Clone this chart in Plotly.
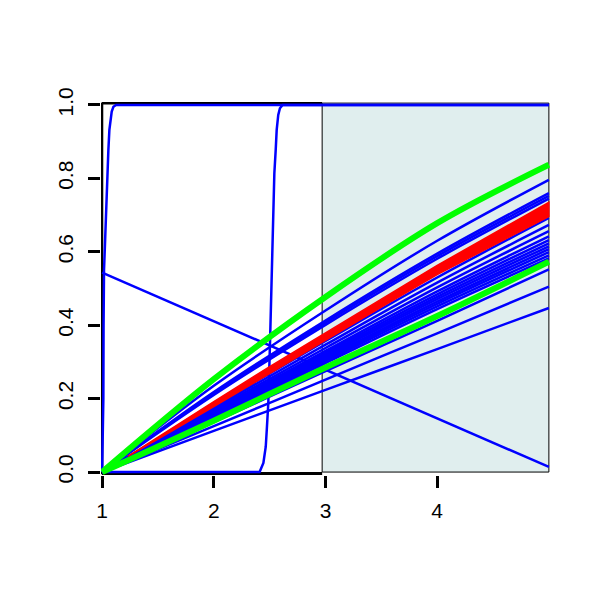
import plotly.graph_objects as go

# ---------------- data ----------------
x_grid = [1, 2, 3, 4, 5]

blue_curves = [
    [0, 0.235, 0.440, 0.630, 0.796],
    [0, 0.218, 0.413, 0.595, 0.760],
    [0, 0.214, 0.407, 0.588, 0.752],
    [0, 0.210, 0.401, 0.581, 0.745],
    [0, 0.180, 0.357, 0.530, 0.692],
    [0, 0.175, 0.347, 0.516, 0.673],
    [0, 0.170, 0.338, 0.503, 0.656],
    [0, 0.166, 0.330, 0.492, 0.642],
    [0, 0.163, 0.325, 0.484, 0.632],
    [0, 0.160, 0.320, 0.477, 0.623],
    [0, 0.158, 0.316, 0.471, 0.615],
    [0, 0.156, 0.311, 0.464, 0.607],
    [0, 0.153, 0.307, 0.458, 0.599],
    [0, 0.150, 0.302, 0.451, 0.590],
    [0, 0.147, 0.297, 0.444, 0.582],
    [0, 0.136, 0.275, 0.412, 0.552],
    [0, 0.125, 0.252, 0.378, 0.505],
    [0, 0.112, 0.224, 0.335, 0.447],
]

green_upper = [0, 0.253, 0.477, 0.678, 0.837]
green_lower = [0, 0.140, 0.285, 0.425, 0.573]

red_x = [1.23, 1.5, 2, 2.5, 3, 3.5, 4, 4.5, 5]
red_upper = [0.043, 0.096, 0.192, 0.287, 0.378, 0.471, 0.563, 0.649, 0.735]
red_lower = [0.043, 0.090, 0.178, 0.268, 0.358, 0.449, 0.538, 0.618, 0.696]

falling_x = [1, 5]
falling_y = [0.543, 0.014]

sig1_x = [1.0, 1.008, 1.011, 1.013, 1.017, 1.027, 1.036, 1.048, 1.056, 1.065,
          1.077, 1.086, 1.101, 1.125, 5.0]
sig1_y = [0.0, 0.10, 0.20, 0.40, 0.55, 0.632, 0.723, 0.814, 0.877, 0.932,
          0.959, 0.982, 0.995, 1.0, 1.0]

sig2_x = [1.0, 2.41, 2.444, 2.465, 2.474, 2.482, 2.488, 2.503, 2.518, 2.533,
          2.542, 2.554, 2.563, 2.577, 2.592, 2.616, 5.0]
sig2_y = [0.0, 0.0, 0.025, 0.069, 0.114, 0.16, 0.188, 0.35, 0.55, 0.714,
          0.814, 0.877, 0.932, 0.973, 0.991, 1.0, 1.0]

shade_x = [2.97, 5.0]
shade_y = [0.0, 1.0]

x_ticks = [1, 2, 3, 4]
x_tick_labels = ["1", "2", "3", "4"]
y_ticks = [0, 0.2, 0.4, 0.6, 0.8, 1.0]
y_tick_labels = ["0.0", "0.2", "0.4", "0.6", "0.8", "1.0"]

BLUE = "#0000FF"
RED = "#FF0000"
GREEN = "#00FF00"

fig = go.Figure()

for ys in blue_curves:
    fig.add_trace(go.Scatter(x=x_grid, y=ys, mode="lines",
                             line=dict(color=BLUE, width=2.5, shape="spline", smoothing=1.0),
                             hoverinfo="skip", showlegend=False))

fig.add_trace(go.Scatter(x=falling_x, y=falling_y, mode="lines",
                         line=dict(color=BLUE, width=2.5), showlegend=False))
fig.add_trace(go.Scatter(x=sig1_x, y=sig1_y, mode="lines",
                         line=dict(color=BLUE, width=2.5), showlegend=False))
fig.add_trace(go.Scatter(x=sig2_x, y=sig2_y, mode="lines",
                         line=dict(color=BLUE, width=2.5), showlegend=False))

fig.add_trace(go.Scatter(x=x_grid, y=green_upper, mode="lines",
                         line=dict(color=GREEN, width=6, shape="spline", smoothing=1.0),
                         showlegend=False))
fig.add_trace(go.Scatter(x=x_grid, y=green_lower, mode="lines",
                         line=dict(color=GREEN, width=6, shape="spline", smoothing=1.0),
                         showlegend=False))

fig.add_trace(go.Scatter(x=red_x + red_x[::-1], y=red_upper + red_lower[::-1],
                         mode="lines", fill="toself", fillcolor=RED,
                         line=dict(color=RED, width=1.5), showlegend=False))

shapes = [
    dict(type="rect", xref="x", yref="y", x0=shade_x[0], x1=shade_x[1],
         y0=shade_y[0], y1=1.005, fillcolor="#E0EEEE",
         line=dict(color="black", width=1), layer="below"),
    dict(type="line", xref="x", yref="y", x0=0.997, x1=0.997, y0=-0.005, y1=1.006,
         line=dict(color="black", width=3), layer="below"),
    dict(type="line", xref="x", yref="y", x0=0.997, x1=shade_x[0], y0=1.005, y1=1.005,
         line=dict(color="black", width=3), layer="below"),
    dict(type="line", xref="x", yref="y", x0=0.997, x1=shade_x[0], y0=-0.004, y1=-0.004,
         line=dict(color="black", width=3), layer="below"),
]

font = dict(family="Liberation Sans, Arial, sans-serif", size=21, color="black")

fig.update_layout(
    width=600, height=600,
    margin=dict(l=93, r=58, t=94, b=133, pad=0),
    paper_bgcolor="white", plot_bgcolor="white",
    shapes=shapes,
    showlegend=False,
    xaxis=dict(range=[0.99, 5.01], tickvals=x_ticks, ticktext=x_tick_labels,
               ticks="outside", ticklen=12, tickwidth=3, tickcolor="black",
               showgrid=False, zeroline=False, showline=False,
               tickfont=font, ticklabelstandoff=5),
    yaxis=dict(range=[-0.008, 1.008], tickvals=y_ticks, ticktext=y_tick_labels,
               ticks="outside", ticklen=12, tickwidth=3, tickcolor="black",
               showgrid=False, zeroline=False, showline=False,
               tickangle=-90, tickfont=font, ticklabelstandoff=7),
)

fig.write_html("out.html")
